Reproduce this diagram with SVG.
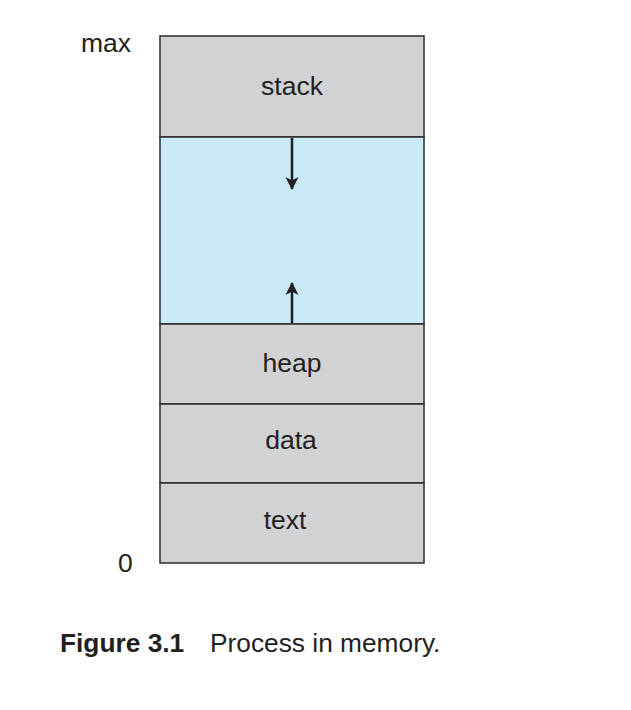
<svg xmlns="http://www.w3.org/2000/svg" width="631" height="710" viewBox="0 0 631 710">
<style>
.seg{fill:#d1d2d4;stroke:#2b2b2b;stroke-width:1.5}
.free{fill:#c7e9f8;stroke:#2b2b2b;stroke-width:1.5}
.lbl{font-family:"Liberation Sans",Arial,sans-serif;font-size:26.5px;fill:#231f20;text-anchor:middle}
.side{font-family:"Liberation Sans",Arial,sans-serif;font-size:26.5px;fill:#231f20}
.arrow{stroke:#231f20;stroke-width:2.5;fill:none}
</style>
<defs>
<marker id="ah" viewBox="0 0 12 12" refX="11" refY="6" markerWidth="13" markerHeight="13" markerUnits="userSpaceOnUse" orient="auto">
<path d="M0,0 L12,6 L0,12 L3,6 Z" fill="#231f20"/>
</marker>
</defs>
<rect width="631" height="710" fill="#ffffff"/>
<g id="stack"><rect class="seg" x="160" y="36" width="264" height="101"/><text class="lbl" x="292" y="95">stack</text></g>
<g id="free"><rect class="free" x="160" y="137" width="264" height="187"/></g>
<g id="heap"><rect class="seg" x="160" y="324" width="264" height="80"/><text class="lbl" x="292" y="372">heap</text></g>
<g id="data"><rect class="seg" x="160" y="404" width="264" height="79"/><text class="lbl" x="291" y="449">data</text></g>
<g id="text"><rect class="seg" x="160" y="483" width="264" height="80"/><text class="lbl" x="285" y="529">text</text></g>
<g id="connectors">
<line class="arrow" x1="292" y1="138" x2="292" y2="189" marker-end="url(#ah)"/>
<line class="arrow" x1="292" y1="323" x2="292" y2="283" marker-end="url(#ah)"/>
</g>
<g id="labels">
<text class="side" x="81" y="52">max</text>
<text class="side" x="118" y="572">0</text>
</g>
<g id="caption">
<text x="60" y="652" font-family="'Liberation Sans',Arial,sans-serif" font-size="26.3" font-weight="bold" fill="#231f20">Figure 3.1</text>
<text x="210" y="652" font-family="'Liberation Sans',Arial,sans-serif" font-size="26.3" fill="#231f20">Process in memory.</text>
</g>
</svg>
